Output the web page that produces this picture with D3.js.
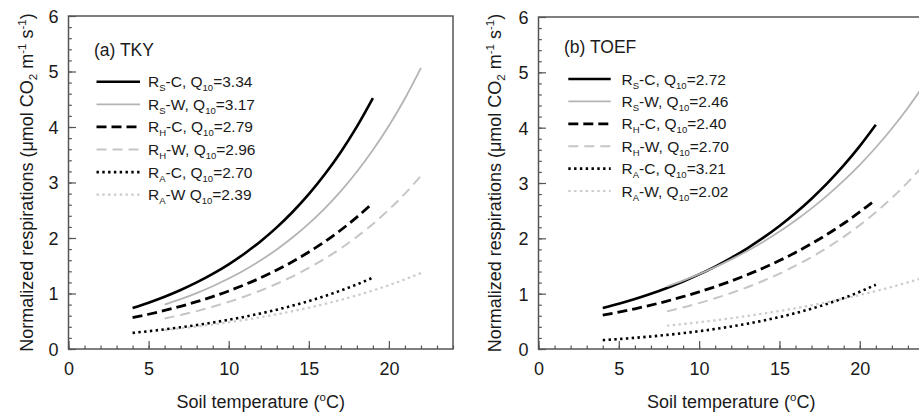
<!DOCTYPE html>
<html><head><meta charset="utf-8">
<script src="https://cdn.jsdelivr.net/npm/d3@7"></script>
<style>
body{margin:0;background:#fff}
svg{display:block}
text{font-family:"Liberation Sans",Arial,Helvetica,sans-serif;fill:#1a1a1a}
</style>
</head><body>
<svg id="chart" width="919" height="414"></svg>
<script>
// ---------- data ----------
const xTicks = [0, 5, 10, 15, 20];
const yTicks = [0, 1, 2, 3, 4, 5, 6];
const panelTitles = ["(a) TKY", "(b) TOEF"];

// Panel (a) TKY
const tempA_C = [4,5,6,7,8,9,10,11,12,13,14,15,16,17,18,19];
const tempA_W = [6,7,8,9,10,11,12,13,14,15,16,17,18,19,20,21,22];
const a_RS_C = [0.74,0.835,0.942,1.063,1.199,1.353,1.526,1.722,1.943,2.192,2.473,2.79,3.148,3.551,4.006,4.52];
const a_RS_W = [0.80,0.898,1.008,1.131,1.269,1.424,1.598,1.794,2.013,2.259,2.535,2.845,3.193,3.584,4.022,4.514,5.066];
const a_RH_C = [0.565,0.626,0.694,0.769,0.852,0.944,1.046,1.159,1.284,1.423,1.576,1.747,1.935,2.144,2.376,2.632];
const a_RH_W = [0.55,0.613,0.683,0.762,0.849,0.946,1.055,1.175,1.31,1.46,1.628,1.814,2.022,2.254,2.512,2.80,3.121];
const a_RA_C = [0.29,0.32,0.354,0.391,0.431,0.476,0.526,0.581,0.641,0.708,0.782,0.864,0.954,1.054,1.164,1.285];
const a_RA_W = [0.34,0.371,0.405,0.441,0.482,0.525,0.573,0.625,0.682,0.744,0.812,0.886,0.966,1.054,1.15,1.255,1.369];
const q10A = ["3.34","3.17","2.79","2.96","2.70","2.39"];

// Panel (b) TOEF
const tempB_C = [4,5,6,7,8,9,10,11,12,13,14,15,16,17,18,19,20,21];
const tempB_W = [8,9,10,11,12,13,14,15,16,17,18,19,20,21,22,23,24];
const b_RS_C = [0.74,0.818,0.904,0.999,1.104,1.22,1.348,1.49,1.647,1.82,2.012,2.223,2.457,2.716,3.001,3.317,3.666,4.052];
const b_RS_W = [1.13,1.236,1.353,1.48,1.62,1.772,1.939,2.122,2.322,2.541,2.78,3.042,3.329,3.642,3.985,4.361,4.771];
const b_RH_C = [0.61,0.666,0.727,0.793,0.866,0.945,1.031,1.126,1.229,1.341,1.464,1.598,1.744,1.904,2.078,2.268,2.476,2.702];
const b_RH_W = [0.68,0.751,0.829,0.916,1.011,1.117,1.234,1.362,1.505,1.662,1.835,2.027,2.238,2.472,2.73,3.015,3.33];
const b_RA_C = [0.16,0.18,0.202,0.227,0.255,0.287,0.322,0.362,0.407,0.457,0.514,0.577,0.649,0.729,0.819,0.92,1.034,1.162];
const b_RA_W = [0.42,0.451,0.483,0.518,0.556,0.597,0.64,0.687,0.737,0.79,0.848,0.909,0.976,1.047,1.123,1.205,1.292];
const q10B = ["2.72","2.46","2.40","2.70","3.21","2.02"];

// legend label parts
const legendSub = ["S","S","H","H","A","A"];
const legendMidA = ["-C, Q","-W, Q","-C, Q","-W, Q","-C, Q","-W Q"];
const legendMidB = ["-C, Q","-W, Q","-C, Q","-W, Q","-C, Q","-W, Q"];

// ---------- styles ----------
const seriesStyle = [
  {color:"#000000", width:2.6, dash:null},
  {color:"#b4b4b4", width:1.8, dash:null},
  {color:"#000000", width:2.8, dash:"10,5"},
  {color:"#c6c6c6", width:2.0, dash:"10,6"},
  {color:"#000000", width:2.6, dash:"2.4,3.4"},
  {color:"#cbcbcb", width:2.2, dash:"2.4,3.4"}
];

const panels = [
  {left:68.5, right:453, top:16, bottom:349, title:panelTitles[0], titleY:55.5,
   ytX:32.5, legY0:81.7, legDy:22.6, legX0:28, legX1:71.5, legTx:79.5, mid:legendMidA, q:q10A,
   series:[[tempA_C,a_RS_C],[tempA_W,a_RS_W],[tempA_C,a_RH_C],[tempA_W,a_RH_W],[tempA_C,a_RA_C],[tempA_W,a_RA_W]]},
  {left:538.5, right:924, top:17, bottom:349, title:panelTitles[1], titleY:52.5,
   ytX:500.5, legY0:79, legDy:22.4, legX0:29.8, legX1:72.2, legTx:83, mid:legendMidB, q:q10B,
   series:[[tempB_C,b_RS_C],[tempB_W,b_RS_W],[tempB_C,b_RH_C],[tempB_W,b_RH_W],[tempB_C,b_RA_C],[tempB_W,b_RA_W]]}
];

const svg = d3.select("#chart");
svg.append("rect").attr("width",919).attr("height",414).attr("fill","#fff");
const axisColor = "#555";
const fmt = d3.format("d");

panels.forEach(p => {
  const x = d3.scaleLinear().domain([0,24]).range([p.left,p.right]);
  const y = d3.scaleLinear().domain([0,6]).range([p.bottom,p.top]);
  const g = svg.append("g");

  // minor ticks
  const gxMinor = g.append("g").attr("transform",`translate(0,${p.bottom})`)
    .call(d3.axisBottom(x).tickValues(d3.range(0,25,1)).tickSize(-3.5).tickFormat(""));
  const gyMinor = g.append("g").attr("transform",`translate(${p.left},0)`)
    .call(d3.axisLeft(y).tickValues(d3.range(0,30,1).map(d=>d/5)).tickSize(-3.3).tickFormat(""));
  // major ticks
  const gx = g.append("g").attr("transform",`translate(0,${p.bottom})`)
    .call(d3.axisBottom(x).tickValues(xTicks).tickSize(-8).tickPadding(0).tickFormat(fmt));
  const gy = g.append("g").attr("transform",`translate(${p.left},0)`)
    .call(d3.axisLeft(y).tickValues(yTicks).tickSize(-7.5).tickPadding(0).tickFormat(fmt));
  [gxMinor,gyMinor,gx,gy].forEach(a=>{
    a.select(".domain").remove();
    a.selectAll("line").attr("stroke",axisColor).attr("stroke-width",1.2);
  });
  gx.selectAll("text").attr("y",25.5).attr("dy",null).attr("font-size",18)
    .style("font-family",'"Liberation Sans",Arial,sans-serif').attr("fill","#1a1a1a");
  gy.selectAll("text").attr("x",-10).attr("dy","0.36em").attr("font-size",18)
    .style("font-family",'"Liberation Sans",Arial,sans-serif').attr("fill","#1a1a1a");

  // frame
  g.append("path")
    .attr("d",`M${p.left},${p.top}V${p.bottom}H${p.right}V${p.top}Z`)
    .attr("fill","none").attr("stroke",axisColor).attr("stroke-width",1.5);

  // curves
  const line = d3.line().x(d=>x(d[0])).y(d=>y(d[1])).curve(d3.curveMonotoneX);
  p.series.forEach((s,i)=>{
    const pts = s[0].map((t,k)=>[t,s[1][k]]);
    const st = seriesStyle[i];
    g.append("path").datum(pts).attr("d",line)
      .attr("fill","none").attr("stroke",st.color).attr("stroke-width",st.width)
      .attr("stroke-dasharray",st.dash);
  });

  // panel title
  g.append("text").attr("x",p.left+25.5).attr("y",p.titleY).attr("font-size",17.5).text(p.title);

  // legend
  for (let i=0;i<6;i++){
    const ly = p.legY0 + i*p.legDy;
    const st = seriesStyle[i];
    g.append("line").attr("x1",p.left+p.legX0).attr("x2",p.left+p.legX1)
      .attr("y1",ly).attr("y2",ly).attr("stroke",st.color).attr("stroke-width",st.width)
      .attr("stroke-dasharray",st.dash);
    const t = g.append("text").attr("x",p.left+p.legTx).attr("y",ly+5.5).attr("font-size",15.5);
    t.append("tspan").text("R");
    t.append("tspan").attr("font-size",9.5).attr("dy",4).text(legendSub[i]);
    t.append("tspan").attr("dy",-4).text(p.mid[i]);
    t.append("tspan").attr("font-size",9.5).attr("dy",4).text("10");
    t.append("tspan").attr("dy",-4).text("=" + p.q[i]);
  }

  // axis titles
  const xt = g.append("text").attr("x",(p.left+p.right)/2).attr("y",408)
    .attr("text-anchor","middle").attr("font-size",18);
  xt.append("tspan").text("Soil temperature (");
  xt.append("tspan").attr("font-size",11.5).attr("dy",-7).text("o");
  xt.append("tspan").attr("dy",7).text("C)");

  const yt = g.append("text").attr("transform",`translate(${p.ytX},${(p.top+p.bottom)/2}) rotate(-90)`)
    .attr("text-anchor","middle").attr("font-size",18);
  yt.append("tspan").text("Normalized respirations (\u03bcmol CO");
  yt.append("tspan").attr("font-size",11.5).attr("dy",4).text("2");
  yt.append("tspan").attr("dy",-4).text(" m");
  yt.append("tspan").attr("font-size",11.5).attr("dy",-7).text("-1");
  yt.append("tspan").attr("dy",7).text(" s");
  yt.append("tspan").attr("font-size",11.5).attr("dy",-7).text("-1");
  yt.append("tspan").attr("dy",7).text(")");
});
</script>
</body></html>
